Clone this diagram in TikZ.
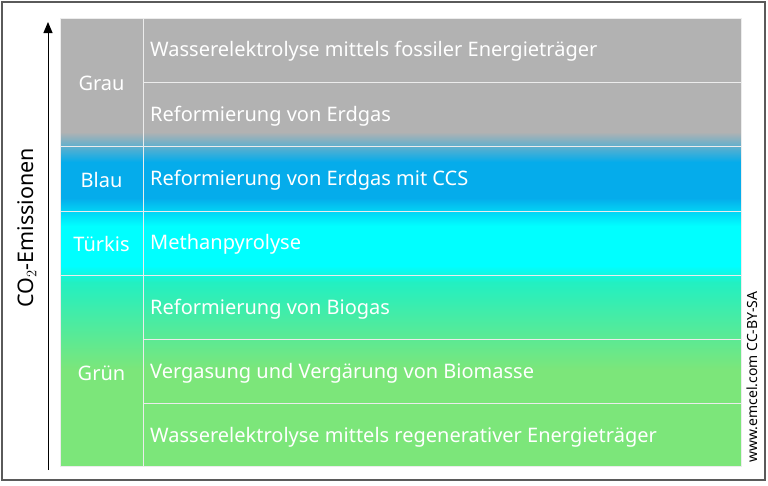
\documentclass[tikz,border=0pt]{standalone}
\usepackage{fontspec}
\setmainfont{Noto Sans}
\usepackage{xcolor}
\definecolor{grau}{HTML}{B2B2B2}
\definecolor{blau}{HTML}{05ACEB}
\definecolor{tuerkis}{HTML}{00FFFF}
\definecolor{mint}{HTML}{22F0C2}
\definecolor{gruen}{HTML}{7CE67A}
\definecolor{frame}{HTML}{5A5A5A}
\usepackage{tikz}
\usetikzlibrary{calc,positioning,arrows.meta}

\begin{document}
\begin{tikzpicture}[
    x=1pt, y=-1pt,
    rowtext/.style={anchor=west, text=white, font=\fontsize{20}{22}\selectfont, inner sep=0pt},
    grouptext/.style={text=white, font=\fontsize{20}{22}\selectfont, inner sep=0pt},
    gridline/.style={white!85!gray, line width=0.9pt},
    arrow/.style={-{Triangle[width=9pt,length=11pt]}, line width=1pt}
]
  \useasboundingbox (0,0) rectangle (768,485);
  \fill[white] (0,0) rectangle (768,485);

  % Colour bands
  \fill[grau] (60,18) rectangle (741,132);
  \shade[top color=grau, bottom color=blau] (60,132) rectangle (741,162);
  \fill[blau] (60,162) rectangle (741,198);
  \shade[top color=blau, bottom color=tuerkis] (60,198) rectangle (741,226);
  \fill[tuerkis] (60,226) rectangle (741,266);
  \shade[top color=tuerkis, bottom color=mint] (60,266) rectangle (741,282);
  \shade[top color=mint, bottom color=gruen] (60,282) rectangle (741,370);
  \fill[gruen] (60,370) rectangle (741,466);

  % Grid
  \draw[gridline] (60,18) rectangle (741,466);
  \draw[gridline] (143,18) -- (143,466);
  \draw[gridline] (143,82) -- (741,82);
  \draw[gridline] (60,146) -- (741,146);
  \draw[gridline] (60,211) -- (741,211);
  \draw[gridline] (60,275) -- (741,275);
  \draw[gridline] (143,339) -- (741,339);
  \draw[gridline] (143,403) -- (741,403);

  % Groups
  \node[grouptext] (grau) at (101.5,83) {Grau};
  \node[grouptext] (blau) at (101.5,180) {Blau};
  \node[grouptext] (tuerkis) at (101.5,244) {Türkis};
  \node[grouptext] (gruen) at (101.5,373) {Grün};

  % Methods
  \node[rowtext] (m1) at (150,51) {Wasserelektrolyse mittels fossiler Energieträger};
  \node[rowtext] (m2) at (150,116) {Reformierung von Erdgas};
  \node[rowtext] (m3) at (150,180) {Reformierung von Erdgas mit CCS};
  \node[rowtext] (m4) at (150,244) {Methanpyrolyse};
  \node[rowtext] (m5) at (150,309) {Reformierung von Biogas};
  \node[rowtext] (m6) at (150,373) {Vergasung und Vergärung von Biomasse};
  \node[rowtext] (m7) at (150,437) {Wasserelektrolyse mittels regenerativer Energieträger};

  % Axis
  \coordinate (low) at (48,470);
  \coordinate (high) at (48,22);
  \draw[arrow] (low) -- (high);
  \node[rotate=90, font=\fontsize{21.5}{24}\selectfont] (axis) at (27,228) {CO$_2$-Emissionen};

  % Source
  \node[rotate=90, font=\fontsize{14}{16}\selectfont] (source) at (752,377) {www.emcel.com CC-BY-SA};

  % Frame
  \draw[frame, line width=1.3pt] (2,2) rectangle (765,480);
\end{tikzpicture}
\end{document}
